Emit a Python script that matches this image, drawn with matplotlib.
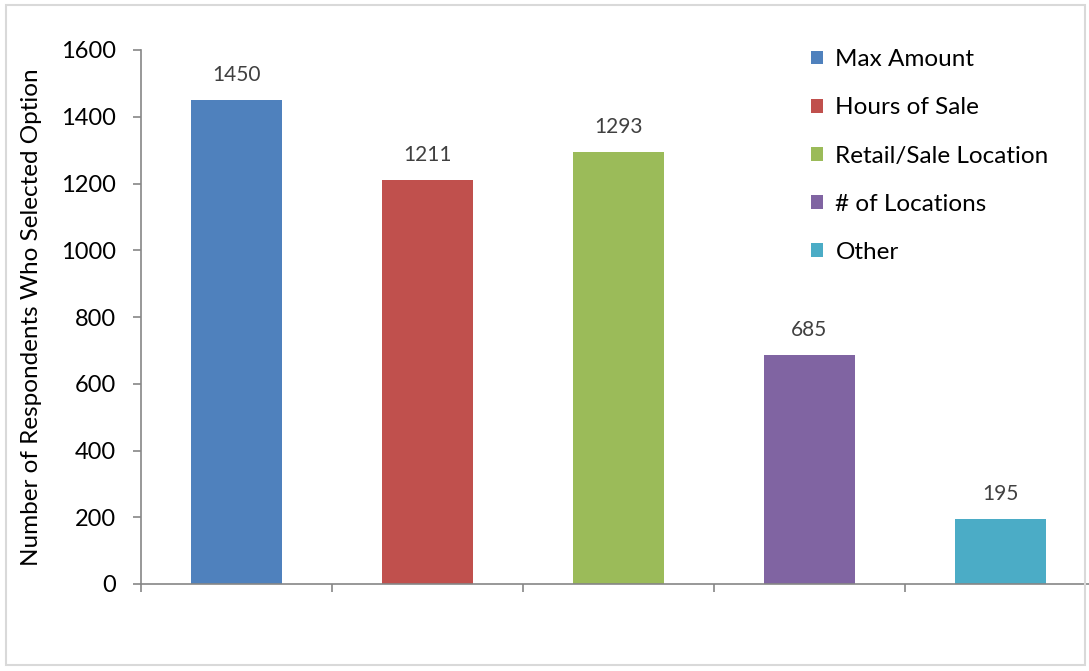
import matplotlib.pyplot as plt
from matplotlib.patches import Rectangle, Patch

plt.rcParams['font.family'] = ['Lato', 'DejaVu Sans']

options = ['Max Amount', 'Hours of Sale', 'Retail/Sale Location', '# of Locations', 'Other']
counts = [1450, 1211, 1293, 685, 195]
colors = ['#4F81BD', '#C0504D', '#9BBB59', '#8064A2', '#4BACC6']
yticks = [0, 200, 400, 600, 800, 1000, 1200, 1400, 1600]

W, H = 1089, 671
fig = plt.figure(figsize=(W / 100, H / 100), dpi=100)
# plot area spans 5 category slots of ~191 px, last one runs past the edge
ax = fig.add_axes([141 / W, 1 - 584 / H, 955 / W, 534 / H])

xs = [i + 0.5 for i in range(len(options))]
ax.bar(xs, counts, width=0.48, color=colors, zorder=2)
for x, v in zip(xs, counts):
    ax.annotate(str(v), (x, v), xytext=(0, 11), textcoords='offset points',
                ha='center', va='bottom', fontsize=15, color='#404040')

ax.set_xlim(0, 5)
ax.set_ylim(0, 1600)
ax.set_yticks(yticks)
ax.set_xticks(range(0, 6))
ax.set_xticklabels([])
ax.tick_params(axis='y', direction='out', length=6, width=1.2, color='#868686',
               labelsize=17, pad=12)
ax.tick_params(axis='x', direction='out', length=6, width=1.2, color='#868686')
for s in ['top', 'right']:
    ax.spines[s].set_visible(False)
for s in ['left', 'bottom']:
    ax.spines[s].set_color('#868686')
    ax.spines[s].set_linewidth(1.2)

ax.set_ylabel('Number of Respondents Who Selected Option', fontsize=17.5, labelpad=14)

handles = [Patch(facecolor=c) for c in colors]
ax.legend(handles, options, loc='upper left', bbox_to_anchor=(799 / W, 1 - 37 / H),
          bbox_transform=fig.transFigure, frameon=False, fontsize=17.5,
          handlelength=0.5, handleheight=0.5, handletextpad=0.5,
          labelspacing=1.12, borderpad=0)

# thin grey frame round the chart
fig.patches.append(Rectangle((6 / W, 1 - 665 / H), 1079 / W, 660 / H,
                             transform=fig.transFigure, fill=False,
                             edgecolor='#D9D9D9', linewidth=1.5))

fig.savefig('out.png', dpi=100)
